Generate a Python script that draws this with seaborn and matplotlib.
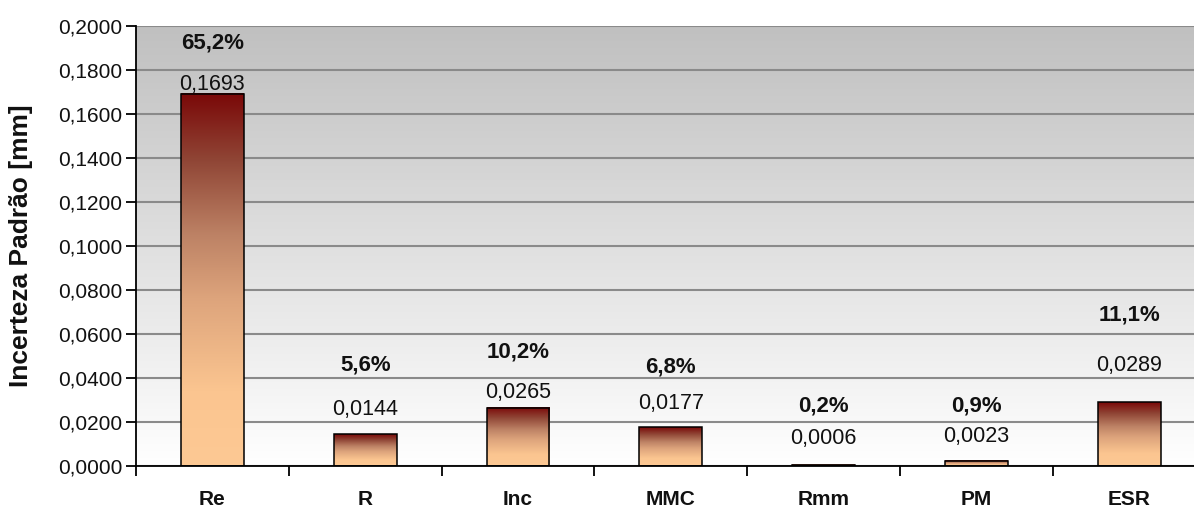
import numpy as np
import matplotlib
matplotlib.use("Agg")
import matplotlib.pyplot as plt
import seaborn as sns
import pandas as pd
from matplotlib.colors import LinearSegmentedColormap
from matplotlib.ticker import FuncFormatter, MultipleLocator, FixedLocator

# Standard uncertainty of each source and its share of the combined uncertainty
categories = ["Re", "R", "Inc", "MMC", "Rmm", "PM", "ESR"]
std_uncertainty = [0.1693, 0.0144, 0.0265, 0.0177, 0.0006, 0.0023, 0.0289]
contribution_pct = [65.2, 5.6, 10.2, 6.8, 0.2, 0.9, 11.1]

# Heights (in mm) at which the annotations are placed
value_label_y = [0.1732, 0.0255, 0.0333, 0.0286, 0.0127, 0.0132, 0.0459]
pct_label_y = [0.1923, 0.0459, 0.0516, 0.0452, 0.0273, 0.0273, 0.0686]

sns.set_theme(style="white")
plt.rcParams["font.family"] = ["Liberation Sans", "DejaVu Sans"]

W, H = 1194, 507
fig = plt.figure(figsize=(W / 100, H / 100), dpi=100)
fig.patch.set_facecolor("white")
ax = fig.add_axes([136 / W, 41 / H, 1069.6 / W, 440 / H])

df = pd.DataFrame({"fonte": categories, "u": std_uncertainty})
sns.barplot(data=df, x="fonte", y="u", ax=ax, width=0.41, color="#c87850",
            edgecolor="black", linewidth=1.1, zorder=3)

# Vertical gradient fill inside each bar
bar_cmap = LinearSegmentedColormap.from_list(
    "bar", [(0.0, "#fdc994"), (0.2, "#fbc590"), (0.45, "#dda47c"),
            (0.62, "#bd8265"), (0.82, "#904636"), (1.0, "#7a0808")])
grad = np.linspace(0, 1, 256).reshape(-1, 1)
for patch in ax.patches:
    x0, y0 = patch.get_x(), patch.get_y()
    w, h = patch.get_width(), patch.get_height()
    patch.set_facecolor("none")
    ax.imshow(grad, extent=[x0, x0 + w, y0, y0 + h], origin="lower",
              cmap=bar_cmap, aspect="auto", zorder=2.5, interpolation="bilinear")

# Plot-area background: grey at the top fading to white
bg_cmap = LinearSegmentedColormap.from_list("bg", ["#ffffff", "#c0c0c0"])
ax.imshow(np.linspace(0, 1, 256).reshape(-1, 1), extent=[-0.5, 6.5, 0, 0.2],
          origin="lower", cmap=bg_cmap, aspect="auto", zorder=0,
          interpolation="bilinear")

ax.set_xlim(-0.5, 6.5)
ax.set_ylim(0, 0.2)

# Gridlines
ax.set_axisbelow(True)
ax.yaxis.set_major_locator(MultipleLocator(0.02))
ax.yaxis.grid(True, color="#8a8a8a", linewidth=1.5)
ax.xaxis.grid(False)

# Axes styling
for side in ["top", "right"]:
    ax.spines[side].set_visible(False)
for side in ["left", "bottom"]:
    ax.spines[side].set_color("black")
    ax.spines[side].set_linewidth(1.3)
    ax.spines[side].set_zorder(4)

ax.yaxis.set_major_formatter(FuncFormatter(lambda v, p: f"{v:.4f}".replace(".", ",")))
ax.tick_params(axis="y", which="major", left=True, length=7, width=1.3,
               color="black", direction="out", labelsize=15, pad=3,
               labelcolor="#111111")
ax.xaxis.set_minor_locator(FixedLocator(np.arange(-0.5, 7.0, 1.0)))
ax.tick_params(axis="x", which="major", bottom=False, length=0, labelsize=15,
               pad=17, labelcolor="#111111")
ax.tick_params(axis="x", which="minor", bottom=True, length=7, width=1.3,
               color="black", direction="out")
for lbl in ax.get_xticklabels():
    lbl.set_fontweight("bold")

ax.set_xlabel("")
ax.set_ylabel("Incerteza Padrão [mm]", fontsize=19, fontweight="bold",
              color="#111111")
ax.yaxis.set_label_coords(-103 / 1069.6, 0.5)

# Annotations: value and percentage contribution above each bar
for i, (v, pct) in enumerate(zip(std_uncertainty, contribution_pct)):
    ax.text(i, value_label_y[i], f"{v:.4f}".replace(".", ","), ha="center",
            va="center", fontsize=15.5, color="#111111", zorder=5)
    ax.text(i, pct_label_y[i], f"{pct:.1f}%".replace(".", ","), ha="center",
            va="center", fontsize=16, fontweight="bold", color="#111111", zorder=5)

fig.savefig("out.png", dpi=100)
